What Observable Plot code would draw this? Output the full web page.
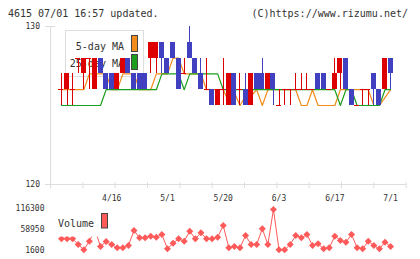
<!DOCTYPE html>
<html>
<head>
<meta charset="utf-8">
<script src="https://cdn.jsdelivr.net/npm/d3@7"></script>
<script src="https://cdn.jsdelivr.net/npm/@observablehq/plot@0.6"></script>
<style>
  body { margin: 0; background: #fff; }
  #wrap { position: relative; width: 420px; height: 259px; overflow: hidden; background: #fff;
          font-family: "DejaVu Sans Mono", monospace; color: #333; }
  #wrap svg { position: absolute; left: 0; }
</style>
</head>
<body>
<div id="wrap">
  <svg id="under" width="420" height="259" style="top:0" font-family="DejaVu Sans Mono, monospace">
    <text x="8" y="17" font-size="10" fill="#333">4615 07/01 16:57 updated.</text>
    <text x="408" y="17" font-size="10" fill="#333" text-anchor="end">(C)https://www.rizumu.net/</text>
    <rect x="65.5" y="30.5" width="78" height="46" fill="#fff" stroke="#ddd"/>
    <text x="124" y="50" font-size="10" fill="#333" text-anchor="end">5-day MA</text>
    <text x="124" y="66.5" font-size="10" fill="#333" text-anchor="end">25-day MA</text>
    <rect x="131.5" y="35.5" width="6" height="16" fill="#f28c1c" stroke="#444"/>
    <rect x="131.5" y="54.5" width="6" height="15" fill="#1e9e1e" stroke="#444"/>
  </svg>
</div>
<script>
// Daily prices (yen), one entry per trading day
const open  = [126,126,126,128,127,128,126,128,127,127,126,127,128,127,127,127,128,128,129,128,
               129,128,127,129,128,127,126,126,125,126,125,127,126,126,125,127,127,126,127,125,
               126,126,126,126,126,126,127,127,126,126,127,128,126,125,126,126,127,126,126,128];
const high  = [127,127,127,128,128,128,128,128,127,127,127,128,128,127,127,127,129,129,129,128,
               129,128,128,130,128,128,128,126,126,128,127,127,127,127,127,127,128,127,127,126,
               126,126,127,127,127,126,127,127,126,128,128,128,126,125,126,126,127,126,128,128];
const low   = [125,125,125,127,126,126,126,127,126,126,126,127,127,126,126,126,127,127,127,127,
               128,126,127,128,127,126,126,125,125,125,125,125,125,125,125,126,126,126,125,125,
               125,125,126,126,126,126,126,126,126,126,126,126,125,125,125,125,125,125,126,126];
const close = [126,127,126,128,128,128,128,127,126,126,127,128,127,126,126,126,129,129,128,127,
               128,126,127,128,127,126,126,125,126,126,127,125,126,125,127,126,126,127,126,125,
               126,126,126,126,126,126,126,126,126,127,128,126,125,125,126,126,126,125,128,127];
const volume = [33500,33500,33500,18000,3500,27000,58000,12500,26200,18000,9000,9000,15300,56200,36300,
                36300,40700,37900,45300,6200,21500,33500,27000,54300,33500,49900,33500,33500,37900,69900,
                9000,12500,9000,42600,18000,18000,60900,18000,113600,3500,3500,18000,42600,36300,45300,
                15300,19900,6200,9000,40700,28900,24300,45300,9000,6200,27000,15300,6200,24300,12500];
const ma5  = [126,126,126,126,126,127,127,127,127,126,126,127,127,127,126,126,126,127,127,127,
              128,128,127,127,127,127,126,126,126,126,125.2,125.8,125,125.6,125.6,126,125,126,126,126,
              126,126,126,125,125,126,125,125,125,125,126,126,126,126,126,126,125,125,125.5,126];
const ma25 = [125,125,125,125,125,125,125,125,126,126,126,126,126,126,126,126,126,126,127,127,
              127,127,126,127,127,127,127,127,127,126,126,126,126,126,126,126,126,126,126,126,
              126,126,126,126,126,126,126,126,126,126,125,126,126,125,125,125,125,125,126,126];

// Axis labels
const priceTicks = [120, 130];
const volumeTicks = [1600, 58950, 116300];
const dateLabels = ["4/16", "5/1", "5/20", "6/3", "6/17", "7/1"];
const dateIndex  = [9, 19, 29, 39, 49, 59];

const RED = "#dd0000", BLUE = "#4040c0", ORANGE = "#f28c1c", GREEN = "#1e9e1e", VOL = "#ff5a5a", AXIS = "#dddddd";

const days = close.map((c, i) => ({
  i, open: open[i], high: high[i], low: low[i], close: c,
  volume: volume[i], ma5: ma5[i], ma25: ma25[i]
}));
const up = days.filter(d => d.close > d.open);
const down = days.filter(d => d.close < d.open);
const flat = days.filter(d => d.close === d.open);
const dates = dateLabels.map((t, k) => ({t, i: dateIndex[k]}));

const xDomain = [-1.97, 61.8];
const xTicks = d3.range(12).map(k => xDomain[0] + k * (xDomain[1] - xDomain[0]) / 11);
const cell = {x1: d => d.i - 0.5, x2: d => d.i + 0.5, insetLeft: 0.29, insetRight: 0.29, shapeRendering: "crispEdges"};
const font = {fontFamily: "DejaVu Sans Mono, monospace", background: "transparent", overflow: "visible"};

const price = Plot.plot({
  width: 420, height: 205,
  marginTop: 26, marginBottom: 21, marginLeft: 50, marginRight: 14.3,
  x: {domain: xDomain, axis: null},
  y: {domain: [120, 130], axis: null},
  style: font,
  marks: [
    Plot.ruleY([120], {stroke: AXIS}),
    Plot.ruleX([xDomain[0]], {y1: 120, y2: 130, stroke: AXIS}),
    Plot.ruleY(priceTicks, {x1: xDomain[0], x2: xDomain[0], insetLeft: -5, insetRight: -5, stroke: AXIS}),
    Plot.ruleX(xTicks, {y1: 120, y2: 120, insetTop: -2, insetBottom: -4, stroke: AXIS}),
    Plot.text(priceTicks, {x: xDomain[0], y: d => d, text: d => String(d), textAnchor: "end", dx: -10.5, fontSize: 8, fill: "#333"}),
    Plot.text(dates, {x: "i", y: 120, dy: 14, text: "t", fontSize: 8, fill: "#333"}),
    Plot.line(days, {x: "i", y: "ma5", stroke: ORANGE, strokeWidth: 1.2}),
    Plot.line(days, {x: "i", y: "ma25", stroke: GREEN, strokeWidth: 1.2}),
    Plot.ruleX(up, {x: "i", y1: "low", y2: "high", stroke: RED, shapeRendering: "crispEdges"}),
    Plot.ruleX(flat, {x: "i", y1: "low", y2: "high", stroke: RED, shapeRendering: "crispEdges"}),
    Plot.ruleX(down, {x: "i", y1: "low", y2: "high", stroke: BLUE, shapeRendering: "crispEdges"}),
    Plot.rect(up, {...cell, y1: "open", y2: "close", fill: RED}),
    Plot.rect(down, {...cell, y1: "open", y2: "close", fill: BLUE}),
    Plot.ruleY(flat, {...cell, y: "close", stroke: RED})
  ]
});
price.style.top = "0px";

const vol = Plot.plot({
  width: 420, height: 59,
  marginTop: 8, marginBottom: 9, marginLeft: 50, marginRight: 14.3,
  x: {domain: xDomain, axis: null},
  y: {domain: [1600, 116300], axis: null},
  style: font,
  marks: [
    Plot.text(volumeTicks, {x: xDomain[0], y: d => d, text: d => String(d), textAnchor: "end", dx: -6, fontSize: 8, fill: "#333"}),
    Plot.line(days, {x: "i", y: "volume", stroke: VOL, strokeWidth: 1}),
    Plot.dot(days, {x: "i", y: "volume", symbol: "square", rotate: 45, r: 2.8, fill: VOL})
  ]
});
vol.style.top = "200px";

const wrap = document.getElementById("wrap");
wrap.appendChild(price);
wrap.appendChild(vol);

// Volume legend sits above the series
const ns = "http://www.w3.org/2000/svg";
const over = d3.create("svg").attr("width", 420).attr("height", 259).style("top", "0px")
  .attr("font-family", "DejaVu Sans Mono, monospace");
over.append("rect").attr("x", 55).attr("y", 209).attr("width", 56).attr("height", 27.5).attr("fill", "#fff");
over.append("text").attr("x", 58).attr("y", 226.5).attr("font-size", 10).attr("fill", "#333").text("Volume");
over.append("rect").attr("x", 101.5).attr("y", 213.5).attr("width", 6).attr("height", 14.5)
  .attr("fill", VOL).attr("stroke", "#444");
wrap.appendChild(over.node());
</script>
</body>
</html>
